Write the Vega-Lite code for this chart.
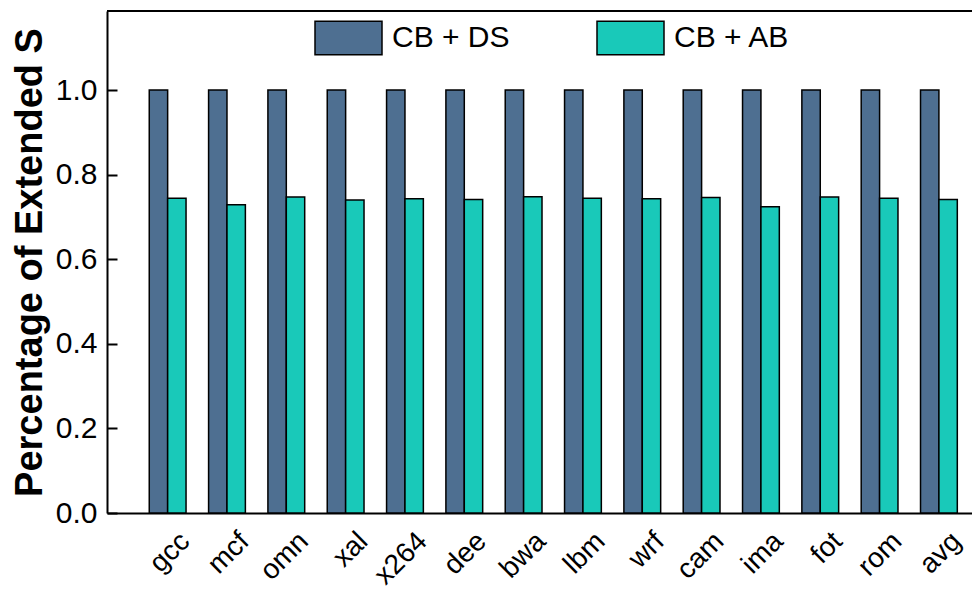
{
  "$schema": "https://vega.github.io/schema/vega-lite/v6.json",
  "autosize": {"type": "none"},
  "padding": {"left": 107, "top": 11, "right": 0, "bottom": 77},
  "width": 865,
  "height": 502,
  "background": "white",
  "config": {
    "view": {"stroke": null},
    "font": "Liberation Sans"
  },
  "data": {
    "values": [
      {"bench": "gcc", "config": "CB + DS", "value": 1.0},
      {"bench": "gcc", "config": "CB + AB", "value": 0.744},
      {"bench": "mcf", "config": "CB + DS", "value": 1.0},
      {"bench": "mcf", "config": "CB + AB", "value": 0.729},
      {"bench": "omn", "config": "CB + DS", "value": 1.0},
      {"bench": "omn", "config": "CB + AB", "value": 0.747},
      {"bench": "xal", "config": "CB + DS", "value": 1.0},
      {"bench": "xal", "config": "CB + AB", "value": 0.740},
      {"bench": "x264", "config": "CB + DS", "value": 1.0},
      {"bench": "x264", "config": "CB + AB", "value": 0.743},
      {"bench": "dee", "config": "CB + DS", "value": 1.0},
      {"bench": "dee", "config": "CB + AB", "value": 0.741},
      {"bench": "bwa", "config": "CB + DS", "value": 1.0},
      {"bench": "bwa", "config": "CB + AB", "value": 0.748},
      {"bench": "lbm", "config": "CB + DS", "value": 1.0},
      {"bench": "lbm", "config": "CB + AB", "value": 0.744},
      {"bench": "wrf", "config": "CB + DS", "value": 1.0},
      {"bench": "wrf", "config": "CB + AB", "value": 0.743},
      {"bench": "cam", "config": "CB + DS", "value": 1.0},
      {"bench": "cam", "config": "CB + AB", "value": 0.746},
      {"bench": "ima", "config": "CB + DS", "value": 1.0},
      {"bench": "ima", "config": "CB + AB", "value": 0.724},
      {"bench": "fot", "config": "CB + DS", "value": 1.0},
      {"bench": "fot", "config": "CB + AB", "value": 0.747},
      {"bench": "rom", "config": "CB + DS", "value": 1.0},
      {"bench": "rom", "config": "CB + AB", "value": 0.744},
      {"bench": "avg", "config": "CB + DS", "value": 1.0},
      {"bench": "avg", "config": "CB + AB", "value": 0.741}
    ]
  },
  "layer": [
    {
      "mark": {"type": "bar", "stroke": "black", "strokeWidth": 1.5},
      "encoding": {
        "x": {
          "field": "bench",
          "type": "nominal",
          "sort": null,
          "scale": {"paddingInner": 0.38, "paddingOuter": 0.48, "align": 0.742},
          "axis": {
            "title": null,
            "ticks": false,
            "domainColor": "black",
            "domainWidth": 2,
            "labelAngle": -45,
            "labelFontSize": 28,
            "labelColor": "black",
            "labelPadding": 14,
            "labelOffset": 8
          }
        },
        "xOffset": {
          "field": "config",
          "type": "nominal",
          "sort": ["CB + DS", "CB + AB"],
          "scale": {"paddingInner": 0, "paddingOuter": 0}
        },
        "y": {
          "field": "value",
          "type": "quantitative",
          "scale": {"domain": [0, 1.187], "nice": false},
          "axis": {
            "title": "Percentage of Extended S",
            "titleFontSize": 38,
            "titleFontWeight": "bold",
            "titleColor": "black",
            "titlePadding": 6,
            "values": [0, 0.2, 0.4, 0.6, 0.8, 1.0],
            "format": ".1f",
            "grid": false,
            "domainColor": "black",
            "domainWidth": 2,
            "tickColor": "black",
            "tickWidth": 2,
            "tickSize": -10,
            "labelPadding": 20,
            "labelFontSize": 30,
            "labelColor": "black"
          }
        },
        "color": {
          "field": "config",
          "type": "nominal",
          "sort": ["CB + DS", "CB + AB"],
          "scale": {"domain": ["CB + DS", "CB + AB"], "range": ["#4e6f91", "#19c9b9"]},
          "legend": {
            "title": null,
            "orient": "none",
            "legendX": 207,
            "legendY": -8,
            "direction": "horizontal",
            "padding": 0,
            "symbolType": "M-1,-0.5H1V0.5H-1Z",
            "symbolSize": 4489,
            "symbolStrokeColor": "black",
            "symbolStrokeWidth": 1.5,
            "symbolOpacity": 1,
            "labelFontSize": 30,
            "labelColor": "black",
            "labelOffset": 9,
            "columnPadding": 84
          }
        }
      }
    },
    {
      "mark": {"type": "rule", "color": "black", "strokeWidth": 2},
      "encoding": {"y": {"datum": 1.187}}
    }
  ]
}
